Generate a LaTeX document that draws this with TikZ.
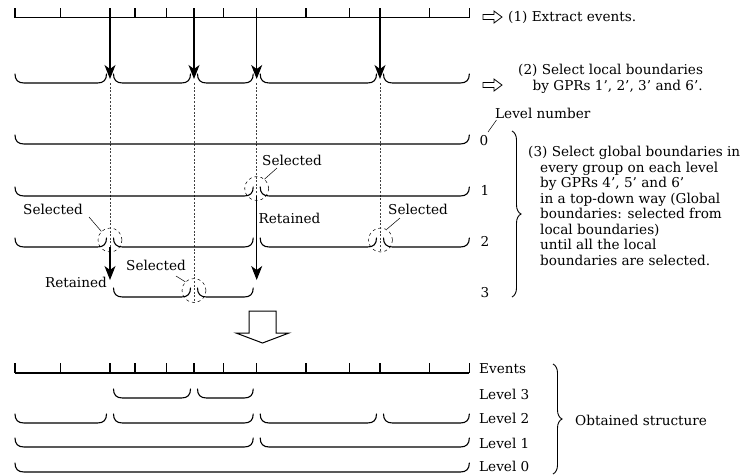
\documentclass[tikz,border=0pt]{standalone}
\usepackage{fontspec}
\setmainfont{DejaVu Serif}
\usetikzlibrary{arrows.meta,decorations.pathreplacing}
\tikzset{
  grpline/.style={line width=1.1pt, line cap=round},
  evline/.style={line width=1.1pt},
  dashv/.style={line width=0.5pt, dash pattern=on 2pt off 1.6pt, black!75},
  arr/.style={line width=1.1pt, -{Stealth[length=14pt,width=11pt,inset=4pt]}},
  selc/.style={circle, draw, dashed, line width=0.5pt, minimum size=24pt, inner sep=0pt},
  lead/.style={line width=0.5pt},
  txt/.style={font=\fontsize{13.6}{15.5}\selectfont, inner sep=0pt},
  hollow/.style={line width=0.8pt, line join=miter},
  bracebig/.style={decorate, decoration={brace, amplitude=9pt}, line width=0.9pt},
}
\newcommand\grpb[3]{\draw[grpline] (#1,#3-9) .. controls (#1,#3-3) and (#1+3,#3) .. (#1+9,#3) -- (#2-9,#3) .. controls (#2-3,#3) and (#2,#3-3) .. (#2,#3-9);}
\newcommand\harrow[2]{\draw[hollow] (#1,#2-2.5) -- (#1+11,#2-2.5) -- (#1+11,#2-6) -- (#1+19,#2) -- (#1+11,#2+6) -- (#1+11,#2+2.5) -- (#1,#2+2.5) -- cycle;}
\newcommand\evrow[2]{%
  \draw[evline] (15,#2) -- (469.3,#2);
  \foreach \x in {15,60.7,110,135,166.7,194,223.3,256.7,306,349.3,380,429.3,469.3}
    \draw[evline] (\x,#1) -- (\x,#2);}
\begin{document}
\begin{tikzpicture}[x=1pt,y=-1pt]
\useasboundingbox (0,0) rectangle (747,475);
% ---- top: events
\evrow{8}{17.5}
\harrow{483}{17}
\node[txt, anchor=west] (t1) at (508,17) {(1) Extract events.};
\foreach \n/\x in {a/110,b/194,c/256.7,d/380}{
  \coordinate (top\n) at (\x,17.5);
  \coordinate (loc\n) at (\x,79);
  \coordinate (locb\n) at (\x,83);
}
\foreach \n in {a,b,c,d} \draw[arr] (top\n) -- (loc\n);
% ---- local boundaries
\grpb{15}{106.5}{83}
\grpb{113.5}{190.5}{83}
\grpb{197.5}{253.2}{83}
\grpb{260.2}{376.5}{83}
\grpb{383.5}{469.3}{83}
\harrow{483}{85}
\node[txt, anchor=north west, align=left] (t2) at (518,64) {(2) Select local boundaries\\\hspace*{14.5pt}by GPRs 1’, 2’, 3’ and 6’.};
% ---- circles
\node[selc] (cA) at (256.7,188.5) {};
\node[selc] (cB) at (110,240) {};
\node[selc] (cC) at (380.5,240) {};
\node[selc] (cD) at (194,290.5) {};
\coordinate (endA) at (256.7,196);
\coordinate (endB) at (110,252);
\coordinate (endC) at (380,252);
\coordinate (endD) at (194,302.5);
\draw[dashv] (locbc) -- (endA);
\draw[dashv] (locba) -- (endB);
\draw[dashv] (locbd) -- (endC);
\draw[dashv] (locbb) -- (endD);
% ---- levels
\grpb{15}{469.3}{144}
\grpb{15}{253.2}{196}
\grpb{260.2}{469.3}{196}
\grpb{15}{106.5}{247}
\grpb{113.5}{253.2}{247}
\grpb{260.2}{376.5}{247}
\grpb{383.5}{469.3}{247}
\grpb{113.5}{190.5}{297}
\grpb{197.5}{253.2}{297}
% retained arrows
\coordinate (retA) at (256.7,280);
\coordinate (startB) at (110,247);
\coordinate (retB) at (110,280);
\draw[arr] (endA) -- (retA);
\draw[arr] (startB) -- (retB);
% labels
\node[txt] (sA) at (292,160) {Selected};
\node[txt] (sB) at (53,209) {Selected};
\node[txt] (sC) at (418,209) {Selected};
\node[txt] (sD) at (156,265) {Selected};
\coordinate (lA) at (277,168);
\coordinate (lB) at (89,217);
\coordinate (lC) at (400,218);
\coordinate (lD) at (176,276);
\draw[lead] (cA.50) -- (lA);
\draw[lead] (cB.135) -- (lB);
\draw[lead] (cC.60) -- (lC);
\draw[lead] (cD.135) -- (lD);
\node[txt, anchor=west] (rA) at (258.5,218) {Retained};
\node[txt, anchor=east] (rB) at (107,282) {Retained};
% level numbers
\node[txt] (n0) at (484,141) {0};
\node[txt] (n1) at (485,190) {1};
\node[txt] (n2) at (485,241) {2};
\node[txt] (n3) at (485,293) {3};
\node[txt, anchor=west] (lvn) at (495,113) {Level number};
\coordinate (lvl) at (496.5,120);
\coordinate (n0c) at (488,132);
\draw[lead] (n0c) -- (lvl);
\coordinate (brT) at (512,131);
\coordinate (brB) at (512,297);
\draw[bracebig] (brT) -- (brB);
\node[txt, anchor=north west, align=left] (t3) at (528,146) {(3) Select global boundaries in\\
\hspace*{12pt}every group on each level\\
\hspace*{12pt}by GPRs 4’, 5’ and 6’\\
\hspace*{12pt}in a top-down way (Global\\
\hspace*{12pt}boundaries: selected from\\
\hspace*{12pt}local boundaries)\\
\hspace*{12pt}until all the local\\
\hspace*{12pt}boundaries are selected.};
% ---- big arrow
\draw[hollow, line width=1pt] (249,311) -- (276,311) -- (276,333) -- (289,333) -- (262.5,343) -- (236,333) -- (249,333) -- cycle;
% ---- obtained structure
\evrow{363}{373}
\grpb{113.5}{190.5}{398}
\grpb{197.5}{253.2}{398}
\grpb{15}{106.5}{423}
\grpb{113.5}{253.2}{423}
\grpb{260.2}{376.5}{423}
\grpb{383.5}{469.3}{423}
\grpb{15}{253.2}{447}
\grpb{260.2}{469.3}{447}
\grpb{15}{469.3}{472}
\node[txt, anchor=west] (ev) at (479,369) {Events};
\node[txt, anchor=west] (L3) at (479,394) {Level 3};
\node[txt, anchor=west] (L2) at (479,418.5) {Level 2};
\node[txt, anchor=west] (L1) at (479,443) {Level 1};
\node[txt, anchor=west] (L0) at (479,466) {Level 0};
\coordinate (bbT) at (553,364);
\coordinate (bbB) at (553,474);
\draw[bracebig] (bbT) -- (bbB);
\node[txt, anchor=west] (obt) at (575,420) {Obtained structure};
\end{tikzpicture}
\end{document}
